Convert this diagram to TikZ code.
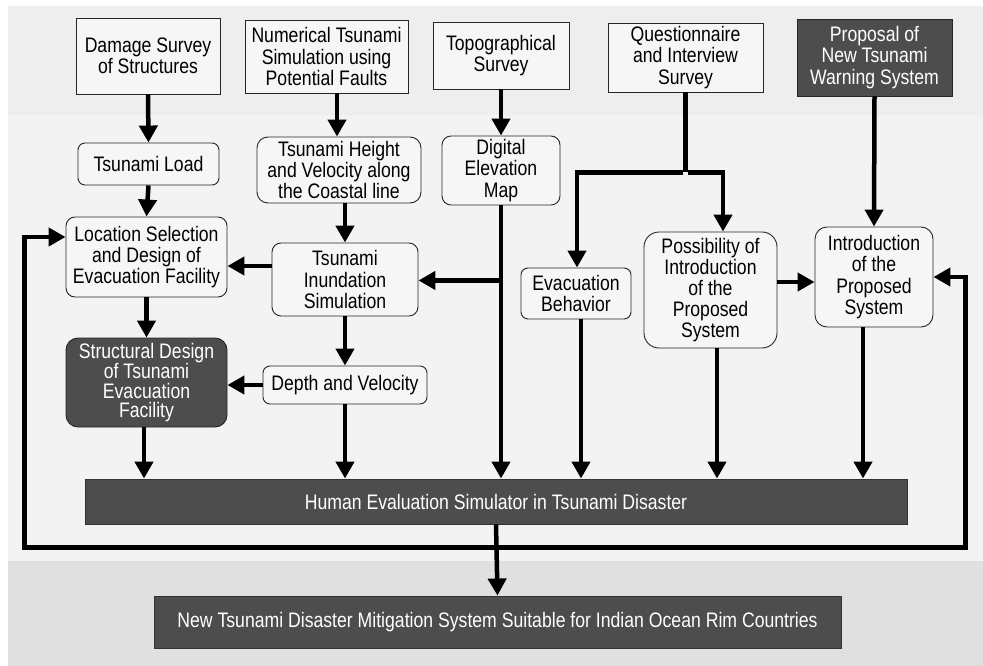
\documentclass[tikz,border=0pt]{standalone}
\usepackage{fontspec}
\setmainfont{Liberation Sans}[FakeStretch=0.84]
\usetikzlibrary{arrows.meta}

\definecolor{bandtop}{HTML}{EEEEEE}
\definecolor{bandmid}{HTML}{F3F3F3}
\definecolor{bandbot}{HTML}{E0E0E0}
\definecolor{boxfill}{HTML}{F6F6F6}
\definecolor{darkfill}{HTML}{4D4D4D}

\tikzset{
  base/.style={draw=black!85, line width=0.9pt, fill=boxfill, align=center,
    inner sep=0pt, text=black, font=\fontsize{21}{21.2}\selectfont},
  sqbox/.style={base},
  rbox/.style={base, rounded corners=9pt},
  dark/.style={fill=darkfill, text=white},
  conn/.style={line width=4.5pt},
  arr/.style={conn, -{Triangle[length=17pt,width=18pt]}},
}

\begin{document}
\begin{tikzpicture}[x=1pt, y=-1pt]
  \useasboundingbox (0,0) rectangle (983,666);
  % background bands
  \fill[white] (0,0) rectangle (983,666);
  \fill[bandtop] (8,6) rectangle (983,115);
  \fill[bandmid] (8,115) rectangle (983,561);
  \fill[bandbot] (8,561) rectangle (983,666);

  % survey row
  \node[sqbox, minimum width=144pt, minimum height=76pt] (dmg) at (148,56)
    {Damage Survey\\of Structures};
  \node[sqbox, minimum width=163pt, minimum height=73pt] (num) at (326.5,56.5)
    {Numerical Tsunami\\Simulation using\\Potential Faults};
  \node[sqbox, minimum width=136pt, minimum height=67pt] (topo) at (501,55.5)
    {Topographical\\Survey};
  \node[sqbox, minimum width=155pt, minimum height=69pt] (quest) at (685.5,57.5)
    {Questionnaire\\and Interview\\Survey};
  \node[sqbox, dark, minimum width=155pt, minimum height=77pt] (prop) at (874.5,57.5)
    {Proposal of\\New Tsunami\\Warning System};

  % intermediate results
  \node[rbox, rounded corners=7pt, minimum width=141pt, minimum height=42pt] (load) at (148.5,164)
    {Tsunami Load};
  \node[rbox, rounded corners=11pt, minimum width=164pt, minimum height=66pt] (height) at (339,170)
    {Tsunami Height\\and Velocity along\\the Coastal line};
  \node[rbox, minimum width=118pt, minimum height=69pt] (dem) at (501,170.5)
    {Digital\\Elevation\\Map};
  \node[rbox, minimum width=161pt, minimum height=80pt] (loc) at (146.5,257)
    {Location Selection\\and Design of\\Evacuation Facility};
  \node[rbox, minimum width=146pt, minimum height=73pt] (inund) at (345,279.5)
    {Tsunami\\Inundation\\Simulation};
  \node[rbox, dark, rounded corners=12pt, minimum width=161pt, minimum height=89pt,
    font=\fontsize{21}{19.5}\selectfont] (struct) at (146.5,382.5)
    {Structural Design\\of Tsunami\\Evacuation\\Facility};
  \node[rbox, rounded corners=7pt, minimum width=164pt, minimum height=38pt] (depth) at (345,385)
    {Depth and Velocity};
  \node[rbox, rounded corners=7pt, minimum width=110pt, minimum height=51pt] (evac) at (576,293.5)
    {Evacuation\\Behavior};
  \node[rbox, rounded corners=15pt, minimum width=133pt, minimum height=116pt] (poss) at (710.5,290)
    {Possibility of\\Introduction\\of the\\Proposed\\System};
  \node[rbox, rounded corners=12pt, minimum width=118pt, minimum height=100pt] (intro) at (874,277)
    {Introduction\\of the\\Proposed\\System};

  % simulator and outcome
  \node[sqbox, dark, draw=black!80, minimum width=822pt, minimum height=45pt] (hes) at (496,501.5)
    {Human Evaluation Simulator in Tsunami Disaster};
  \node[sqbox, dark, draw=black!80, minimum width=687pt, minimum height=52pt] (newsys) at (497.5,622)
    {New Tsunami Disaster Mitigation System Suitable for Indian Ocean Rim Countries};

  % connectors
  \draw[arr] (dmg.south) -- (load.north);
  \draw[arr] (load.south) -- (loc.north);
  \draw[arr] ([xshift=-2pt]height.north |- num.south) -- ([xshift=-2pt]height.north);
  \draw[arr] (topo.south) -- (dem.north);
  \draw[arr] (inund.north |- height.south) -- (inund.north);
  \draw[arr] ([yshift=13.5pt]inund.west) -- ([yshift=13.5pt]inund.west -| loc.east);
  \draw[arr] (loc.south) -- (struct.north);
  \draw[arr] (inund.south) -- (depth.north);
  \draw[arr] (depth.west) -- (depth.west -| struct.east);

  % elevation map feeds the simulator and the inundation run
  \draw[arr] (dem.south) -- (dem.south |- hes.north);
  \path (dem.south) ++(0,75) coordinate (demj);
  \draw[arr] (demj) -- (demj -| inund.east);

  % questionnaire splits in two
  \path (quest.south) ++(0,80) coordinate (qj);
  \draw[conn] (quest.south) -- (qj);
  \draw[arr] ([xshift=-2.25pt]qj) -| ([xshift=1pt]evac.north);
  \draw[arr] ([xshift=2.25pt]qj) -| ([xshift=12.5pt]poss.north);

  \draw[arr] (prop.south) -- (intro.north);
  \draw[arr] ([yshift=8pt]poss.east) -- ([yshift=8pt]poss.east -| intro.west);

  % inputs of the simulator
  \draw[arr] ([xshift=-2.5pt]struct.south) -- ([xshift=-2.5pt]struct.south |- hes.north);
  \draw[arr] (depth.south) -- (depth.south |- hes.north);
  \draw[arr] ([xshift=5pt]evac.south) -- ([xshift=5pt]evac.south |- hes.north);
  \draw[arr] ([xshift=6.5pt]poss.south) -- ([xshift=6.5pt]poss.south |- hes.north);
  \draw[arr] ([xshift=-11pt]intro.south) -- ([xshift=-11pt]intro.south |- hes.north);

  % output and feedback loop
  \draw[arr] (hes.south) -- (newsys.north);
  \path (hes.south) ++(0,23) coordinate (fb);
  \draw[arr] (fb) -| ([xshift=-41pt,yshift=20pt]loc.west) -- ([yshift=20pt]loc.west);
  \draw[arr] (fb) -| ([xshift=32pt]intro.east) -- (intro.east);
\end{tikzpicture}
\end{document}
